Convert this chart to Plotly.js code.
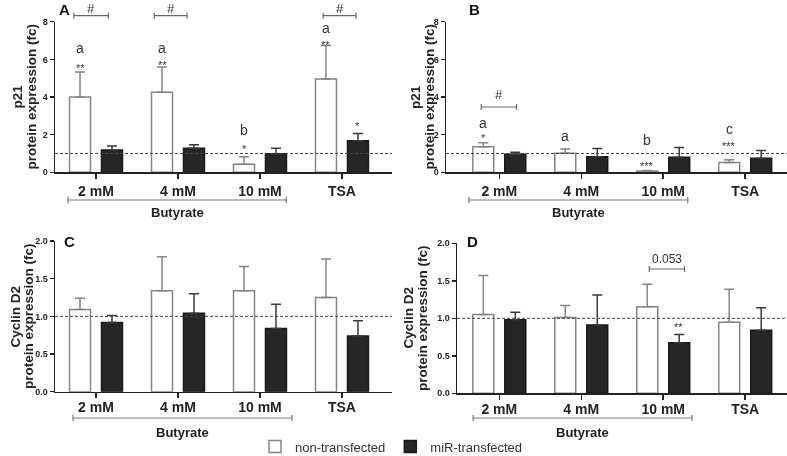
<!DOCTYPE html>
<html><head><meta charset="utf-8">
<script src="https://cdn.plot.ly/plotly-3.0.1.min.js"></script>
<style>html,body{margin:0;padding:0;background:#fff}#chart{width:787px;height:456px;filter:grayscale(1)}</style>
</head><body><div id="chart"></div>
<script>
// ---- data ----
const categories = ['2 mM', '4 mM', '10 mM', 'TSA'];
const seriesNames = ['non-transfected', 'miR-transfected'];

// Panel A: p21, cells 1
const p21A_non = [4.00, 4.25, 0.43, 4.96];
const p21A_nonSD = [1.33, 1.35, 0.40, 1.77];
const p21A_mir = [1.19, 1.28, 0.99, 1.67];
const p21A_mirSD = [0.21, 0.18, 0.29, 0.39];

// Panel B: p21, cells 2
const p21B_non = [1.36, 1.01, 0.07, 0.52];
const p21B_nonSD = [0.21, 0.23, 0.03, 0.15];
const p21B_mir = [0.96, 0.83, 0.80, 0.75];
const p21B_mirSD = [0.10, 0.44, 0.52, 0.41];

// Panel C: Cyclin D2, cells 1
const cycC_non = [1.09, 1.34, 1.34, 1.25];
const cycC_nonSD = [0.15, 0.45, 0.32, 0.51];
const cycC_mir = [0.92, 1.04, 0.84, 0.74];
const cycC_mirSD = [0.09, 0.26, 0.32, 0.20];

// Panel D: Cyclin D2, cells 2
const cycD_non = [1.05, 1.01, 1.155, 0.947];
const cycD_nonSD = [0.52, 0.16, 0.30, 0.44];
const cycD_mir = [0.98, 0.91, 0.675, 0.84];
const cycD_mirSD = [0.10, 0.40, 0.11, 0.30];

const yTitleLine2 = 'protein expression (fc)';
const yTitleP21 = 'p21';
const yTitleCyc = 'Cyclin D2';
const groupLabel = 'Butyrate';

// ---- styling ----
const FONT = 'Arial, "Liberation Sans", Helvetica, sans-serif';
const INK = '#222222';
const WHITE_LINE = '#858585';
const BLACK_FILL = '#262626';

function barPair(vNon, sNon, vMir, sMir, xa, ya, showLeg) {
  return [
    {type: 'bar', name: seriesNames[0], x: categories, y: vNon, xaxis: xa, yaxis: ya,
     legendgroup: 'non', showlegend: showLeg,
     marker: {color: '#ffffff', line: {color: WHITE_LINE, width: 1.5}},
     error_y: {type: 'data', symmetric: false, array: sNon, arrayminus: sNon.map(() => 0),
               color: WHITE_LINE, thickness: 1.5, width: 5}},
    {type: 'bar', name: seriesNames[1], x: categories, y: vMir, xaxis: xa, yaxis: ya,
     legendgroup: 'mir', showlegend: showLeg,
     marker: {color: BLACK_FILL, line: {color: '#1a1a1a', width: 1.5}},
     error_y: {type: 'data', symmetric: false, array: sMir, arrayminus: sMir.map(() => 0),
               color: '#3a3a3a', thickness: 1.5, width: 5}}
  ];
}

const data = [].concat(
  barPair(p21A_non, p21A_nonSD, p21A_mir, p21A_mirSD, 'x', 'y', true),
  barPair(p21B_non, p21B_nonSD, p21B_mir, p21B_mirSD, 'x2', 'y2', false),
  barPair(cycC_non, cycC_nonSD, cycC_mir, cycC_mirSD, 'x3', 'y3', false),
  barPair(cycD_non, cycD_nonSD, cycD_mir, cycD_mirSD, 'x4', 'y4', false)
);

function xAxis(domain, range, anchor, standoff) {
  return {domain: domain, range: range, anchor: anchor, type: 'category',
    showline: true, linecolor: INK, linewidth: 1.5, ticks: 'outside', ticklen: 5,
    tickwidth: 1.5, tickcolor: INK, showgrid: false, zeroline: false,
    ticklabelstandoff: standoff,
    tickfont: {family: FONT, size: 14, color: INK, weight: 'bold'}};
}
function yAxis(domain, range, dtick, fmt, anchor) {
  return {domain: domain, range: range, anchor: anchor, dtick: dtick, tick0: 0,
    tickformat: fmt, showline: true, linecolor: INK, linewidth: 1.5,
    ticks: 'outside', ticklen: 4, tickwidth: 1.5, tickcolor: INK,
    showgrid: false, zeroline: false,
    tickfont: {family: FONT, size: 9, color: INK, weight: 'bold'}};
}

const shapes = [];
const annotations = [];

// reference line at 1
['', '2', '3', '4'].forEach(s => {
  shapes.push({type: 'line', xref: 'x' + s + ' domain', yref: 'y' + s, x0: 0, x1: 1, y0: 1, y1: 1,
    line: {color: '#444', width: 1, dash: '3px,2px'}});
});

// bracket helper (horizontal line with small end ticks)
function bracket(xref, x0, x1, yref, y, cap, color) {
  shapes.push({type: 'line', xref: xref, yref: yref, x0: x0, x1: x1, y0: y, y1: y,
    line: {color: color, width: 1.2}});
  [x0, x1].forEach(xx => {
    shapes.push({type: 'line', xref: xref, yref: yref, x0: xx, x1: xx, y0: y - cap, y1: y + cap,
      line: {color: color, width: 1.2}});
  });
}

// Butyrate group brackets (paper y)
const bCap = 3 / 456;
bracket('x', -0.34, 2.32, 'paper', 1 - 200 / 456, bCap, '#777');
bracket('x2', -0.37, 2.30, 'paper', 1 - 200 / 456, bCap, '#777');
bracket('x3', -0.28, 2.39, 'paper', 1 - 418 / 456, bCap, '#777');
bracket('x4', -0.32, 2.35, 'paper', 1 - 418 / 456, bCap, '#777');
[['x', 0.99, 1 - 213 / 456], ['x2', 0.965, 1 - 213 / 456], ['x3', 1.05, 1 - 432 / 456], ['x4', 1.015, 1 - 432 / 456]]
  .forEach(([xr, xc, yp]) => {
    annotations.push({xref: xr, yref: 'paper', x: xc, y: yp, text: groupLabel, showarrow: false,
      font: {family: FONT, size: 13, color: INK, weight: 'bold'}, xanchor: 'center', yanchor: 'middle'});
  });

// y-axis titles (two rotated lines each)
[[yTitleP21, 16.5, 30.5, 97], [yTitleP21, 415, 428.5, 97], [yTitleCyc, 15, 28.5, 316.5], [yTitleCyc, 407.5, 422, 318]]
  .forEach(([t1, px1, px2, py]) => {
    [[t1, px1], [yTitleLine2, px2]].forEach(([t, px]) => {
      annotations.push({xref: 'paper', yref: 'paper', x: px / 787, y: 1 - py / 456, text: t,
        textangle: -90, showarrow: false, xanchor: 'center', yanchor: 'middle',
        font: {family: FONT, size: 13.5, color: INK, weight: 'bold'}});
    });
  });

// "#" brackets in A (above axis, paper y)
[[0, -0.27, 0.15], [1, -0.29, 0.11], [3, -0.23, 0.17]].forEach(([i, a, b]) => {
  bracket('x', i + a, i + b, 'paper', 1 - 15.7 / 456, bCap, '#666');
  annotations.push({xref: 'x', yref: 'paper', x: i + (a + b) / 2, y: 1 - 8 / 456, text: '#',
    showarrow: false, font: {family: FONT, size: 13, color: '#333'}, yanchor: 'middle'});
});
// "#" bracket in B
bracket('x2', -0.22, 0.21, 'y2', 3.47, 0.16, '#666');
annotations.push({xref: 'x2', yref: 'y2', x: -0.005, y: 4.12, text: '#', showarrow: false,
  font: {family: FONT, size: 13, color: '#333'}, yanchor: 'middle'});
// "0.053" bracket in D
bracket('x4', 1.83, 2.26, 'y4', 1.657, 0.04, '#666');
annotations.push({xref: 'x4', yref: 'y4', x: 2.045, y: 1.79, text: '0.053', showarrow: false,
  font: {family: FONT, size: 12, color: '#333'}, yanchor: 'middle'});

// letters and asterisks
const wOff = -0.195, bOff = 0.19;
function lab(xr, yr, x, y, t) {
  annotations.push({xref: xr, yref: yr, x: x, y: y, text: t, showarrow: false, yanchor: 'middle',
    font: {family: FONT, size: 14, color: '#333'}});
}
function star(xr, yr, x, y, t) {
  annotations.push({xref: xr, yref: yr, x: x, y: y, text: t, showarrow: false, yanchor: 'middle',
    yshift: -3, font: {family: FONT, size: 11, color: '#333'}});
}
lab('x', 'y', 0 + wOff, 6.6, 'a'); star('x', 'y', 0 + wOff, 5.7, '**');
lab('x', 'y', 1 + wOff, 6.6, 'a'); star('x', 'y', 1 + wOff, 5.87, '**');
lab('x', 'y', 2 + wOff, 2.24, 'b'); star('x', 'y', 2 + wOff, 1.39, '*');
lab('x', 'y', 3 + wOff, 7.68, 'a'); star('x', 'y', 3 + wOff, 6.93, '**');
star('x', 'y', 3 + bOff, 2.6, '*');

lab('x2', 'y2', 0 + wOff, 2.6, 'a'); star('x2', 'y2', 0 + wOff, 1.97, '*');
lab('x2', 'y2', 1 + wOff, 1.92, 'a');
lab('x2', 'y2', 2 + wOff, 1.7, 'b'); star('x2', 'y2', 2 + wOff, 0.5, '***');
lab('x2', 'y2', 3 + wOff, 2.3, 'c'); star('x2', 'y2', 3 + wOff, 1.58, '***');

star('x4', 'y4', 2 + bOff, 0.92, '**');

// panel letters
[['A', 57, 9], ['B', 467, 9], ['C', 62, 241], ['D', 465, 241]].forEach(([t, px, py]) => {
  annotations.push({xref: 'paper', yref: 'paper', x: px / 787, y: 1 - py / 456, text: t,
    showarrow: false, xanchor: 'left', yanchor: 'middle',
    font: {family: FONT, size: 15, color: '#111', weight: 'bold'}});
});

const layout = {
  width: 787, height: 456,
  margin: {l: 0, r: 0, t: 0, b: 0, autoexpand: false},
  paper_bgcolor: '#ffffff', plot_bgcolor: 'rgba(0,0,0,0)',
  barmode: 'group', bargap: 0.22, bargroupgap: 0.344,
  font: {family: FONT, color: INK},
  showlegend: true,
  legend: {orientation: 'h', x: 0.324, xanchor: 'left', y: -0.012, yanchor: 'bottom',
    font: {family: FONT, size: 13, color: '#333'}, bgcolor: 'rgba(0,0,0,0)'},
  xaxis: xAxis([55 / 787, 392 / 787], [-0.5, 3.61], 'y', 0),
  xaxis2: xAxis([446 / 787, 1], [-0.65, 3.51], 'y2', 0),
  xaxis3: xAxis([55 / 787, 392 / 787], [-0.5, 3.61], 'y3', -3),
  xaxis4: xAxis([457 / 787, 1], [-0.516, 3.51], 'y4', -3),
  yaxis: yAxis([1 - 172.3 / 456, 1 - 21.7 / 456], [0, 8], 2, 'd', 'x'),
  yaxis2: yAxis([1 - 172.3 / 456, 1 - 21.7 / 456], [0, 8], 2, 'd', 'x2'),
  yaxis3: yAxis([1 - 391.7 / 456, 1 - 241 / 456], [0, 2], 0.5, '.1f', 'x3'),
  yaxis4: yAxis([1 - 393.3 / 456, 1 - 243.3 / 456], [0, 2], 0.5, '.1f', 'x4'),
  shapes: shapes,
  annotations: annotations
};

Plotly.newPlot('chart', data, layout, {displayModeBar: false, staticPlot: true});
</script>
</body></html>
